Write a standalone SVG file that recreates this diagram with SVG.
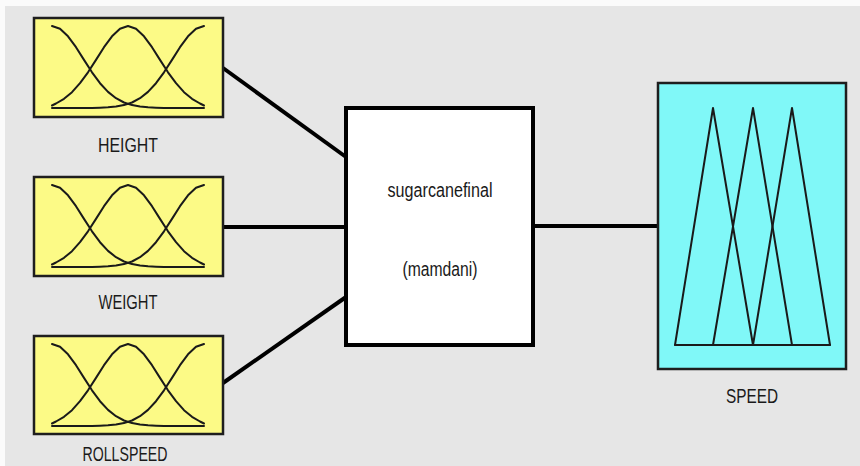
<svg xmlns="http://www.w3.org/2000/svg" width="860" height="466" viewBox="0 0 860 466">
<style>
.bg{fill:#e6e6e6}
.inbox{fill:#fcfa86;stroke:#1e1e1e;stroke-width:2.5}
.outbox{fill:#80f8f8;stroke:#1e1e1e;stroke-width:2.5}
.sysbox{fill:#ffffff;stroke:#000;stroke-width:4}
.mf{fill:none;stroke:#1a1a1a;stroke-width:2;stroke-linejoin:round;stroke-linecap:round}
.conn{stroke:#000;stroke-width:4;fill:none}
.lbl{font-family:"Liberation Sans",Arial,sans-serif;font-size:21px;fill:#1a1a1a;text-anchor:middle}
.sys{font-family:"Liberation Sans",Arial,sans-serif;font-size:20px;fill:#1a1a1a;text-anchor:middle}
</style>
<defs>
<g id="gauss3">
<polyline class="mf" points="52,8 60,10.7 68,18.3 76,29.2 84,41.9 92,54.3 100,65.2 108,73.9 116,80.2 124,84.5 132,87.1 140,88.5 148,89.3 156,89.7 164,90 204,90"/>
<polyline class="mf" points="204,8 196,10.7 188,18.3 180,29.2 172,41.9 164,54.3 156,65.2 148,73.9 140,80.2 132,84.5 124,87.1 116,88.5 108,89.3 100,89.7 92,90 52,90"/>
<polyline class="mf" points="52,87.5 56,85.5 64,80.8 72,74.2 80,65.2 88,54.3 96,41.9 104,29.2 112,18.3 120,10.7 128,8 136,10.7 144,18.3 152,29.2 160,41.9 168,54.3 176,65.2 184,74.2 192,80.8 200,85.5 204,87.5"/>
</g>
</defs>
<rect x="0" y="0" width="860" height="466" fill="#fbfbfb"/>
<rect class="bg" x="5" y="6" width="855" height="460"/>
<g id="connectors">
<line class="conn" x1="223" y1="68" x2="346" y2="157"/>
<line class="conn" x1="223" y1="227" x2="346" y2="227"/>
<line class="conn" x1="223" y1="383" x2="346" y2="297"/>
<line class="conn" x1="533" y1="226" x2="658" y2="226"/>
</g>
<g id="height">
<rect class="inbox" x="34" y="18" width="189" height="99"/>
<use href="#gauss3" transform="translate(0,18)"/>
<text class="lbl" x="128" y="152" textLength="60" lengthAdjust="spacingAndGlyphs">HEIGHT</text>
</g>
<g id="weight">
<rect class="inbox" x="34" y="177" width="189" height="99"/>
<use href="#gauss3" transform="translate(0,177)"/>
<text class="lbl" x="128" y="309" textLength="59" lengthAdjust="spacingAndGlyphs">WEIGHT</text>
</g>
<g id="rollspeed">
<rect class="inbox" x="34" y="336" width="189" height="98"/>
<use href="#gauss3" transform="translate(0,336)"/>
<text class="lbl" x="125" y="461" textLength="85" lengthAdjust="spacingAndGlyphs">ROLLSPEED</text>
</g>
<g id="system">
<rect class="sysbox" x="346" y="108" width="187" height="237"/>
<text class="sys" x="440" y="197" textLength="105" lengthAdjust="spacingAndGlyphs">sugarcanefinal</text>
<text class="sys" x="440" y="276" textLength="75" lengthAdjust="spacingAndGlyphs">(mamdani)</text>
</g>
<g id="speed">
<rect class="outbox" x="658" y="83" width="188" height="286"/>
<polyline class="mf" points="675,345 713,108 753,345"/>
<polyline class="mf" points="713,345 753,108 792,345"/>
<polyline class="mf" points="753,345 792,108 830,345"/>
<line class="mf" x1="675" y1="345" x2="830" y2="345"/>
<text class="lbl" x="752" y="403" textLength="52" lengthAdjust="spacingAndGlyphs">SPEED</text>
</g>
</svg>
